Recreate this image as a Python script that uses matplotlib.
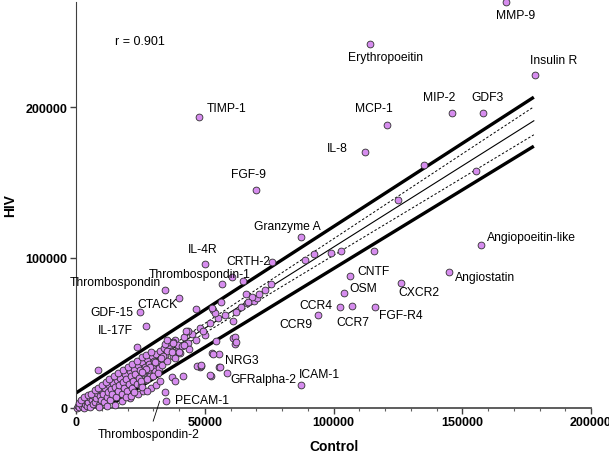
import numpy as np
import matplotlib
matplotlib.use("Agg")
import matplotlib.pyplot as plt

plt.rcParams["font.family"] = ["Liberation Sans", "DejaVu Sans"]

# ── labelled proteins (Control, HIV) ───────────────────────────────
label_names = [
    "MMP-9", "Erythropoeitin", "Insulin R", "MIP-2", "GDF3", "MCP-1", "IL-8",
    "TIMP-1", "FGF-9", "Granzyme A", "IL-4R", "CRTH-2", "Thrombospondin-1",
    "Thrombospondin", "CTACK", "GDF-15", "IL-17F", "NRG3", "GFRalpha-2",
    "ICAM-1", "PECAM-1", "CNTF", "OSM", "CCR4", "CCR7", "CCR9", "FGF-R4",
    "CXCR2", "Angiostatin", "Angiopoeitin-like",
]
label_x = [
    166900, 114000, 178200, 145900, 158000, 120600, 112400,
    47900, 70000, 87200, 50200, 76300, 60700,
    34600, 40100, 24900, 27200, 53300, 58800,
    87500, 35000, 106600, 103900, 102700, 107000, 94100, 116300,
    126100, 144700, 157200,
]
label_y = [
    269800, 241900, 221300, 196000, 196000, 188000, 170100,
    193400, 144900, 113600, 95700, 97000, 87000,
    78400, 73100, 63800, 54500, 35900, 23300,
    15300, 4650, 87700, 76400, 67100, 67800, 61800, 67100,
    83100, 90400, 108300,
]

# ── unlabelled proteins, mid range ─────────────────────────────────
mid_x = [
    43600, 37700, 36200, 34600, 39700, 41200, 44000, 35400, 37400, 40100,
    33900, 38500, 33100, 30700, 28800, 27200, 25700, 25300, 27600, 30000,
    31900, 32700, 37400, 41600, 38500, 48200, 47100, 52900, 55600, 52500,
    55600, 34600, 25700, 27600, 23700, 35400, 56800, 65000, 56400, 53300,
    46700, 54100, 42800, 49400, 37700, 42000, 8600, 48600, 52100, 61100,
    61900, 66500, 70400, 68500, 71200, 75900, 73500, 66100, 66900, 52900,
    62300, 61100, 54500, 61900, 62300, 48600, 56000, 89100, 92600, 99200,
    103100, 115600, 124900, 135000, 155300, 19500, 21400, 22600,
]
mid_y = [
    51200, 43900, 43900, 42500, 41900, 41200, 39200, 37900, 37200, 37200,
    34600, 33200, 33200, 30600, 27200, 25900, 23900, 17900, 19300, 21300,
    23300, 17900, 20600, 21300, 17900, 27200, 27900, 36500, 35900, 21300,
    27200, 10600, 14000, 11300, 40500, 45200, 82400, 84400, 70400, 65100,
    65800, 63100, 51200, 51200, 43200, 41900, 25300, 27900, 21900, 46500,
    42500, 69800, 73100, 73800, 75800, 82400, 78400, 75800, 70400, 66500,
    63800, 57800, 44500, 47200, 43900, 28600, 27200, 98300, 102300, 103000,
    104300, 104300, 138200, 161500, 157500, 7300, 8000, 10600,
]

# ── dense low-abundance cluster (thousands) ────────────────────────
low_x = [
    0.3, 0.8, 1.2, 1.8, 2.2, 2.6, 3.0, 3.4, 3.9, 4.3, 4.8, 5.2, 5.6, 6.1, 6.5,
    7.0, 7.4, 7.9, 8.3, 8.8, 9.2, 9.7, 10.1, 10.5, 11.0, 11.4, 11.9, 12.3,
    12.8, 13.2, 13.6, 14.1, 14.5, 15.0, 15.4, 15.9, 16.3, 16.8, 17.2, 17.7,
    18.1, 18.6, 19.0, 19.5, 19.9, 20.4, 20.8, 21.3, 21.7, 22.2, 22.6, 23.1,
    23.5, 24.0, 24.4, 24.9, 25.3, 25.8, 26.2, 26.7, 27.1, 27.6, 28.0, 28.5,
    28.9, 29.4, 29.8, 30.3, 30.7, 31.2, 31.6, 32.1, 32.5, 33.0, 33.4, 34.0,
    34.6, 35.2, 36.0, 36.8, 37.5, 38.5, 39.5, 40.5, 42.0, 43.5, 45.0, 46.5,
    48.0, 50.0, 52.0, 55.0, 58.0, 64.0, 69.0,
    1.0, 2.0, 3.2, 4.5, 5.8, 7.2, 8.6, 10.0, 11.6, 13.0, 14.8, 16.5, 18.3,
    20.1, 21.9, 23.8, 25.5, 27.3, 29.0,
    9.0, 12.0, 15.0, 18.0, 21.0, 24.0, 26.0, 29.0, 31.0,
]
low_y = [
    0.2, 1.5, 0.4, 2.8, 1.0, 4.2, 0.3, 2.5, 5.5, 1.2, 3.8, 7.0, 0.8, 5.0, 2.6,
    8.3, 4.0, 6.6, 10.2, 2.2, 7.8, 5.2, 11.5, 9.0, 3.8, 13.0, 7.0, 10.8,
    15.2, 5.5, 12.5, 9.2, 16.5, 13.8, 7.5, 18.5, 11.0, 15.5, 20.0, 9.5,
    17.0, 13.0, 22.5, 19.0, 11.5, 15.8, 24.5, 21.0, 13.5, 18.0, 26.0, 22.5,
    16.0, 28.5, 20.0, 25.0, 14.5, 30.5, 23.0, 27.5, 18.5, 32.5, 25.5, 29.5,
    21.0, 34.5, 28.0, 31.5, 24.5, 36.0, 30.0, 26.5, 38.0, 33.0, 28.5, 40.0,
    35.5, 31.0, 42.0, 38.0, 34.5, 45.0, 40.5, 36.5, 47.0, 43.0, 49.5, 45.5,
    53.0, 48.5, 56.5, 60.0, 62.0, 67.0, 71.0,
    3.5, 5.5, 7.0, 8.8, 9.5, 12.0, 13.5, 15.0, 17.5, 19.0, 21.0, 23.0, 25.5,
    27.5, 29.5, 31.5, 33.8, 35.5, 37.5,
    0.5, 1.5, 2.0, 4.5, 6.5, 9.0, 11.0, 13.0, 15.5,
]

# ── regression line with confidence (dashed) and prediction (thick) bands
band_x = [0, 25000, 50000, 100000, 150000, 177800]
fit_y = [-1000, 26000, 53000, 107000, 161000, 191000]
conf_hw = [2500, 1500, 3200, 5500, 8000, 9300]
pred_upper_x = [0, 177800]
pred_upper_y = [10000, 206700]
pred_lower_x = [14000, 177800]
pred_lower_y = [2700, 174100]

r_value = 0.901

# label offsets in pixels (text centre relative to its point)
label_offsets = {
    "MMP-9": (10, -13), "Erythropoeitin": (16, -13), "Insulin R": (19, 15),
    "MIP-2": (-13, 16), "GDF3": (5, 16), "MCP-1": (-13, 17), "IL-8": (-28, 4),
    "TIMP-1": (27, 9), "FGF-9": (-8, 16), "Granzyme A": (-13, 11),
    "IL-4R": (-3, 15), "CRTH-2": (-24, 1), "Thrombospondin-1": (-33, 3),
    "Thrombospondin": (-50, 8), "CTACK": (-22, -6), "GDF-15": (-28, 0),
    "IL-17F": (-31, -4), "NRG3": (29, -6), "GFRalpha-2": (36, -6),
    "ICAM-1": (18, 11), "PECAM-1": (36, 1), "CNTF": (23, 5), "OSM": (20, 5),
    "CCR4": (-25, 2), "CCR7": (1, -16), "CCR9": (-22, -9), "FGF-R4": (25, -8),
    "CXCR2": (18, -9), "Angiostatin": (36, -5), "Angiopoeitin-like": (51, 8),
}

POINT_FACE = "#D68CEE"
POINT_EDGE = "#303030"

fig = plt.figure(figsize=(6.09, 4.56), dpi=100)
ax = fig.add_axes([76 / 609, 47 / 456, 515 / 609, 406 / 456])

# bands and fit
bx = np.array(band_x, dtype=float)
fy = np.array(fit_y, dtype=float)
hw = np.array(conf_hw, dtype=float)
ax.plot(bx, fy, color="black", linewidth=0.8, zorder=2)
ax.plot(bx, fy + hw, color="black", linewidth=0.7, linestyle=(0, (2.5, 2)), zorder=2)
ax.plot(bx, fy - hw, color="black", linewidth=0.7, linestyle=(0, (2.5, 2)), zorder=2)
ax.plot(pred_upper_x, pred_upper_y, color="black", linewidth=2.4,
        solid_capstyle="butt", zorder=2)
ax.plot(pred_lower_x, pred_lower_y, color="black", linewidth=2.4,
        solid_capstyle="butt", zorder=2)

# points
all_x = np.concatenate([np.array(low_x) * 1000, mid_x, label_x])
all_y = np.concatenate([np.array(low_y) * 1000, mid_y, label_y])
ax.scatter(all_x, all_y, s=24, color=POINT_FACE, edgecolors=POINT_EDGE,
           linewidths=0.6, zorder=5, clip_on=False)

# labels
for name, x, y in zip(label_names, label_x, label_y):
    dx, dy = label_offsets[name]
    ax.annotate(name, (x, y), xytext=(dx, dy), textcoords="offset pixels",
                ha="center", va="center", fontsize=8.7, color="black", zorder=6)

# leader-line label pointing into the dense cluster
ax.annotate("Thrombospondin-2", (32500, 4600), xytext=(149, 456 - 435),
            textcoords="figure pixels", ha="center", va="center",
            fontsize=8.7, color="black", zorder=6, annotation_clip=False,
            arrowprops=dict(arrowstyle="-", color="black", linewidth=0.6,
                            shrinkA=3, shrinkB=0))

ax.text(0.076, 0.905, f"r = {r_value}", transform=ax.transAxes,
        fontsize=9, ha="left", va="center")

ax.set_xlim(0, 200000)
ax.set_ylim(0, 270000)
ax.set_xticks([0, 50000, 100000, 150000, 200000])
ax.set_yticks([0, 100000, 200000])
ax.set_xticks(np.arange(0, 200001, 10000), minor=True)
ax.tick_params(axis="both", which="major", direction="out", length=4,
               width=1, labelsize=9, color="#404040", pad=2)
ax.tick_params(axis="x", which="minor", direction="out", length=2,
               width=0.8, color="#606060")
for lbl in ax.get_xticklabels() + ax.get_yticklabels():
    lbl.set_fontweight("bold")

ax.set_xlabel("Control", fontsize=10, fontweight="bold", labelpad=8)
ax.set_ylabel("HIV", fontsize=10, fontweight="bold", labelpad=6)

for side in ("top", "right"):
    ax.spines[side].set_visible(False)
ax.spines["left"].set_color("#404040")
ax.spines["bottom"].set_color("#505050")
ax.spines["bottom"].set_linewidth(1.3)

fig.savefig("out.png", dpi=100)
